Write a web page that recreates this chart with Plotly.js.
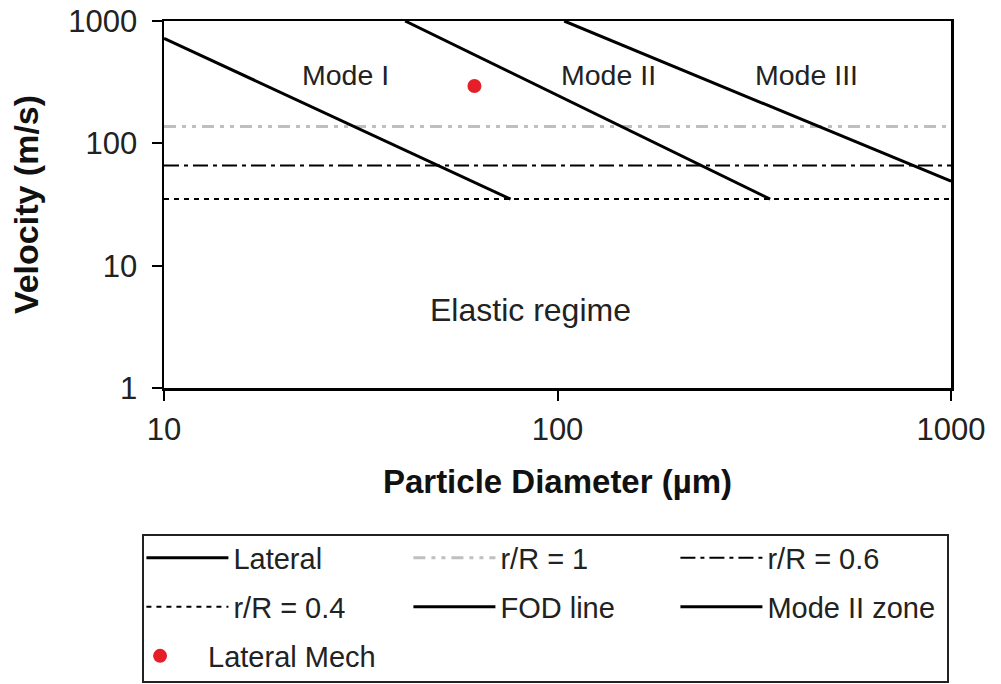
<!DOCTYPE html>
<html>
<head>
<meta charset="utf-8">
<script src="https://cdn.plot.ly/plotly-3.0.1.min.js"></script>
<style>html,body{margin:0;padding:0;background:#fff;}#chart{width:1001px;height:684px;}</style>
</head>
<body>
<div id="chart"></div>
<script>
// ---- data ----
const xRange = [10, 1000];
const lateralD = [10, 76];
const lateralV = [722, 35];
const fodD = [41, 347];
const fodV = [1000, 35];
const mode2D = [104, 1000];
const mode2V = [1000, 49];
const rR1 = 137;
const rR06 = 66;
const rR04 = 35;
const mechD = [61.5];
const mechV = [294];
const regionLabels = ["Mode I", "Mode II", "Mode III", "Elastic regime"];
const regionX = [28.9, 134.6, 428.5, 85.3];
const regionY = [362, 362, 362, 4.34];
const xTickVals = [10, 100, 1000];
const xTickText = ["10", "100", "1000"];
const yTickVals = [1, 10, 100, 1000];
const yTickText = ["1", "10", "100", "1000"];

const FONT = "Liberation Sans, Arial, sans-serif";

const traces = [
  {x: xRange, y: [rR1, rR1], name: "r/R = 1", mode: "lines", legend: "legend", legendrank: 2,
   line: {color: "#bfbfbf", width: 3, dash: "12px,6px,4px,6px,4px,6px"}},
  {x: xRange, y: [rR06, rR06], name: "r/R = 0.6", mode: "lines", legend: "legend", legendrank: 3,
   line: {color: "#000", width: 2, dash: "15px,5px,4px,5px"}},
  {x: xRange, y: [rR04, rR04], name: "r/R = 0.4", mode: "lines", legend: "legend2", legendrank: 1,
   line: {color: "#000", width: 2, dash: "5px,5px"}},
  {x: lateralD, y: lateralV, name: "Lateral", mode: "lines", legend: "legend", legendrank: 1,
   line: {color: "#000", width: 3}},
  {x: fodD, y: fodV, name: "FOD line", mode: "lines", legend: "legend2", legendrank: 2,
   line: {color: "#000", width: 3}},
  {x: mode2D, y: mode2V, name: "Mode II zone", mode: "lines", legend: "legend2", legendrank: 3,
   line: {color: "#000", width: 3}},
  {x: mechD, y: mechV, name: "Lateral Mech", mode: "markers", legend: "legend3",
   marker: {color: "#e61e28", size: 14}}
];

const annotations = regionLabels.map((t, i) => ({
  x: Math.log10(regionX[i]), y: Math.log10(regionY[i]), xref: "x", yref: "y",
  text: t, showarrow: false, xanchor: "center", yanchor: "middle",
  font: {family: FONT, size: i === 3 ? 32 : 28.5, color: "#222"}
}));

const legendCommon = {
  orientation: "h", xanchor: "left", yanchor: "middle",
  bgcolor: "rgba(0,0,0,0)", borderwidth: 0,
  font: {family: FONT, size: 29, color: "#222"},
  entrywidthmode: "pixels", entrywidth: 170, itemwidth: 82, itemclick: false, itemdoubleclick: false
};

const layout = {
  width: 1001, height: 684,
  margin: {l: 164, r: 50, t: 21, b: 296, autoexpand: false},
  paper_bgcolor: "#fff", plot_bgcolor: "#fff",
  showlegend: true,
  xaxis: {
    type: "log", range: [1, 3], tickvals: xTickVals, ticktext: xTickText,
    ticks: "outside", ticklen: 10, tickwidth: 2, tickcolor: "#000",
    showline: true, linecolor: "#000", linewidth: 2.5, mirror: true,
    showgrid: false, zeroline: false, automargin: false, ticklabelstandoff: 2,
    tickfont: {family: FONT, size: 31, color: "#222"},
    title: {text: "<b>Particle Diameter (µm)</b>", standoff: 24, font: {family: FONT, size: 33, color: "#111"}}
  },
  yaxis: {
    type: "log", range: [0, 3], tickvals: yTickVals, ticktext: yTickText,
    ticks: "outside", ticklen: 10, tickwidth: 2, tickcolor: "#000",
    showline: true, linecolor: "#000", linewidth: 2.5, mirror: true,
    showgrid: false, zeroline: false, automargin: false, ticklabelstandoff: 8,
    tickfont: {family: FONT, size: 31, color: "#222"},
    title: {text: "<b>Velocity (m/s)</b>", standoff: 20, font: {family: FONT, size: 34, color: "#111"}}
  },
  legend: Object.assign({}, legendCommon, {x: -0.0287, y: (388 - 558) / 367}),
  legend2: Object.assign({}, legendCommon, {x: -0.0287, y: (388 - 607) / 367}),
  legend3: Object.assign({}, legendCommon, {x: -0.066, y: (388 - 656) / 367, itemwidth: 86}),
  annotations: annotations,
  shapes: [{type: "rect", xref: "paper", yref: "paper",
    x0: (143 - 164) / 787, x1: (948 - 164) / 787, y0: (388 - 682) / 367, y1: (388 - 535) / 367,
    line: {color: "#222", width: 2}, fillcolor: "rgba(0,0,0,0)"}]
};

Plotly.newPlot("chart", traces, layout, {displayModeBar: false, staticPlot: true});
</script>
</body>
</html>
